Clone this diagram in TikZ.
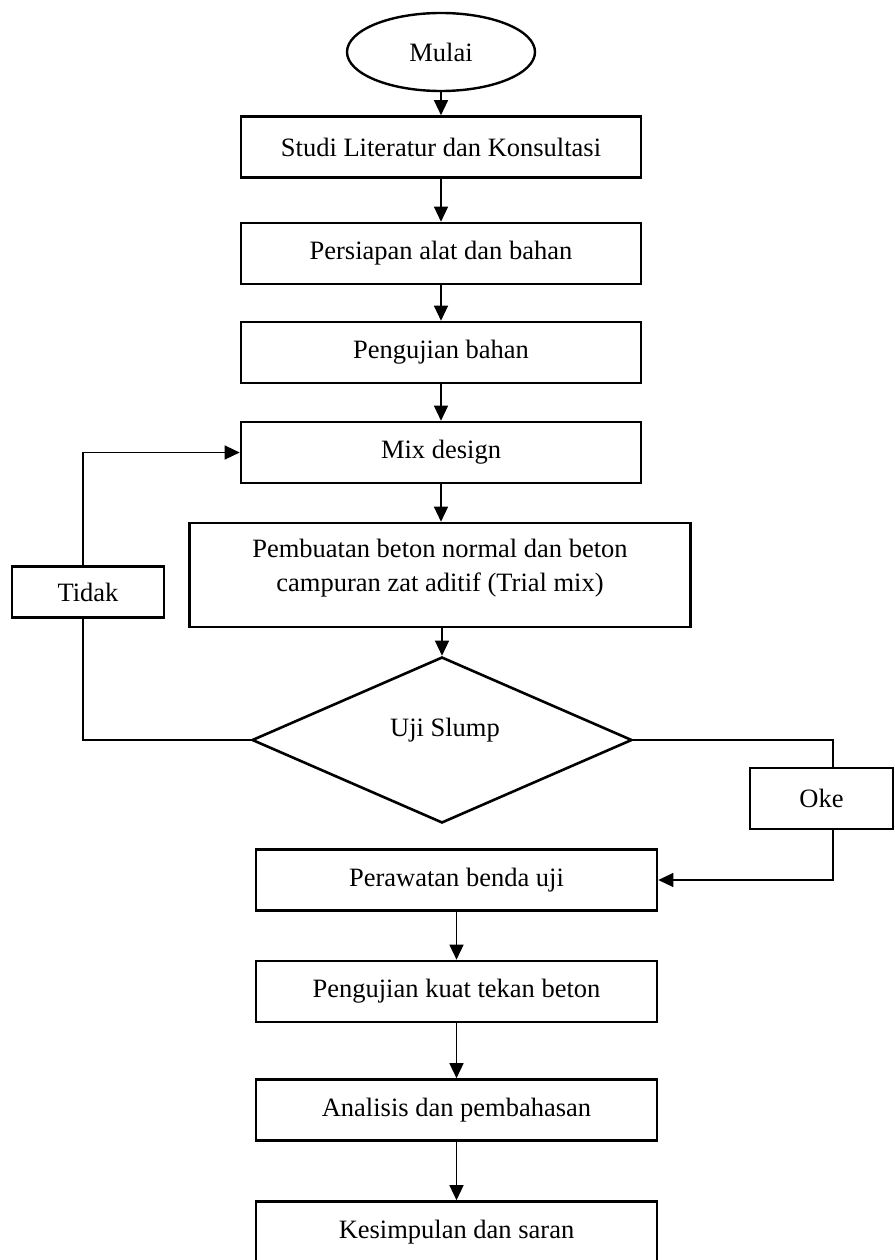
\documentclass[tikz,border=0pt]{standalone}
\usepackage{fontspec}
\setmainfont{Liberation Serif}
\usetikzlibrary{shapes.geometric,arrows.meta}
\begin{document}
\begin{tikzpicture}[x=1pt,y=-1pt,
  every node/.style={font=\fontsize{26.5}{34}\selectfont},
  procbox/.style={draw,line width=2.6pt,rectangle,minimum width=400pt,minimum height=61pt,inner sep=0pt,align=center},
  labbox/.style={draw,line width=2.6pt,rectangle,fill=white,minimum height=51pt,inner sep=0pt},
  flow/.style={line width=1.3pt,-{Triangle[length=15pt,width=14pt]}},
  plain/.style={line width=1.3pt}]
\useasboundingbox (0,0) rectangle (894,1260);
\node[draw,ellipse,line width=2.4pt,minimum width=188pt,minimum height=78pt,inner sep=0pt] (mulai) at (441,52) {Mulai};
\node[procbox] (b1) at (441,147) {Studi Literatur dan Konsultasi};
\node[procbox] (b2) at (441,253.5) {Persiapan alat dan bahan};
\node[procbox] (b3) at (441,352.5) {Pengujian bahan};
\node[procbox] (b4) at (441,452.5) {Mix design};
\node[procbox,minimum width=501pt,minimum height=104pt] (b5) at (440,575) {};
\node[align=center] (b5t) at (440,568) {Pembuatan beton normal dan beton\\campuran zat aditif (Trial mix)};
\node[draw,diamond,line width=2.6pt,minimum width=380pt,minimum height=166pt,inner sep=0pt] (uji) at (442,740) {};
\node (ujit) at (445,730) {Uji Slump};
\node[procbox,minimum width=401pt] (b6) at (456.5,880) {Perawatan benda uji};
\node[procbox,minimum width=401pt] (b7) at (456.5,991.5) {Pengujian kuat tekan beton};
\node[procbox,minimum width=401pt] (b8) at (456.5,1110) {Analisis dan pembahasan};
\node[procbox,minimum width=401pt] (b9) at (456.5,1232) {Kesimpulan dan saran};
% main flow
\draw[flow] (mulai.south) -- (b1.north);
\draw[flow] (b1) -- (b2);
\draw[flow] (b2) -- (b3);
\draw[flow] (b3) -- (b4);
\draw[flow] (b4.south) -- (b4.south |- b5.north);
\draw[flow] (442,627) -- (uji.north);
\draw[flow] (b6) -- (b7);
\draw[flow] (b7) -- (b8);
\draw[flow] (b8) -- (b9);
% Tidak loop
\coordinate (tl) at (83,740);
\coordinate (tu) at (83,452.5);
\draw[flow] (uji.west) -- (tl) -- (tu) -- (b4.west);
\node[labbox,minimum width=152pt] (tidak) at (88,592) {Tidak};
% Oke path
\coordinate (or) at (833,740);
\coordinate (od) at (833,880);
\draw[flow] (uji.east) -- (or) -- (od) -- (b6.east);
\node[labbox,minimum width=143pt,minimum height=61pt] (oke) at (821.5,798.5) {Oke};
\end{tikzpicture}
\end{document}
